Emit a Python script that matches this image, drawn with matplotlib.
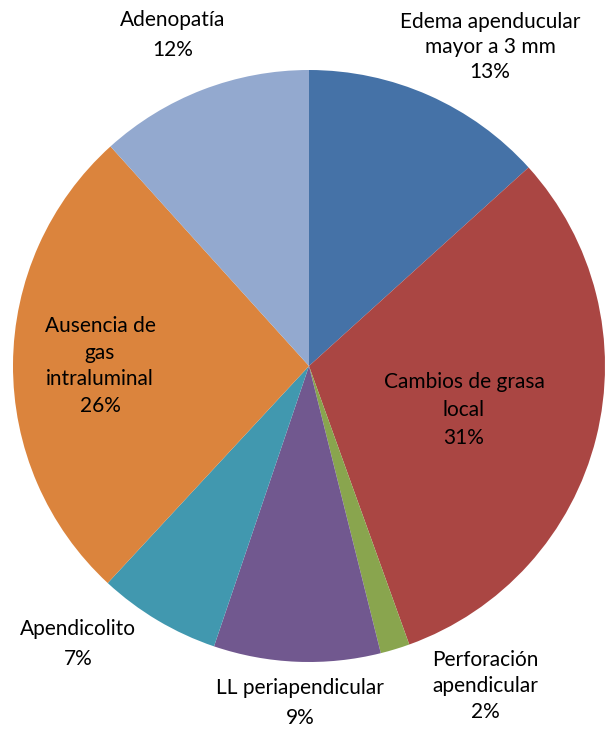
import matplotlib.pyplot as plt

# slices clockwise from 12 o'clock
categorias = ['Edema apenducular\nmayor a 3 mm', 'Cambios de grasa\nlocal',
              'Perforación\napendicular', 'LL periapendicular', 'Apendicolito',
              'Ausencia de\ngas\nintraluminal', 'Adenopatía']
valores = [13.3, 31.2, 1.6, 9.1, 6.7, 26.4, 11.7]
colores = ['#4572A7', '#AA4643', '#89A54E', '#71588F', '#4198AF', '#DB843D', '#93A9CF']

# label anchor points (pixel coords from top-left) and line spacing
pos_etiquetas = [(490, 47), (464, 410), (485, 686), (300, 703), (78, 644),
                 (100, 366), (173, 35)]
interlineado = [1.3, 1.47, 1.35, 1.61, 1.58, 1.43, 1.67]

plt.rcParams['font.family'] = ['Lato', 'DejaVu Sans']

fig = plt.figure(figsize=(6.08, 7.30), dpi=100)
ax = fig.add_axes([0, 0, 1, 1])

total = sum(valores)
ax.pie(valores, colors=colores, startangle=90, counterclock=False,
       center=(309, 730 - 366), radius=296, frame=True,
       wedgeprops=dict(linewidth=0))
ax.set_xlim(0, 608)
ax.set_ylim(0, 730)
ax.set_aspect('equal')
ax.axis('off')

for nombre, v, (x, y), ls in zip(categorias, valores, pos_etiquetas, interlineado):
    pct = round(v / total * 100)
    ax.text(x, 730 - y, f'{nombre}\n{pct}%', ha='center', va='center',
            fontsize=15, linespacing=ls, color='black')

fig.savefig('out.png', dpi=100)
